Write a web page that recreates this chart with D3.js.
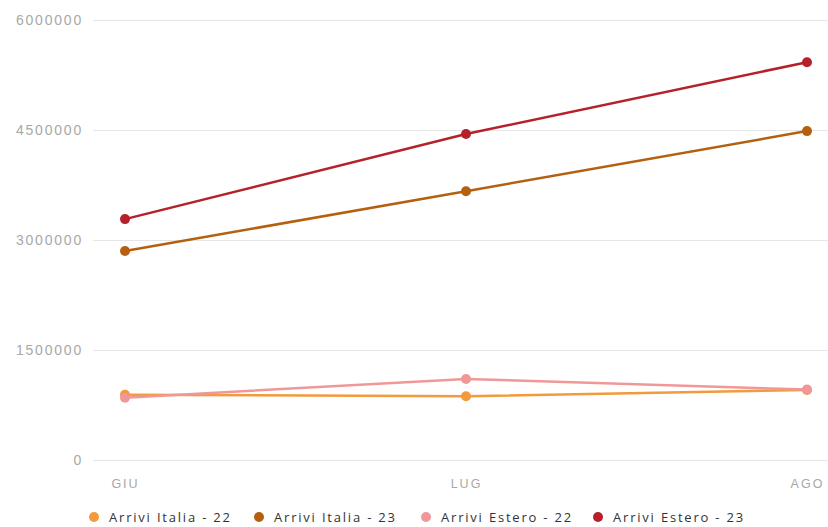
<!DOCTYPE html>
<html>
<head>
<meta charset="utf-8">
<script src="https://cdn.jsdelivr.net/npm/d3@7"></script>
<style>
  html, body { margin: 0; padding: 0; background: #fff; }
  svg { display: block; font-family: "Open Sans", "Noto Sans", sans-serif; }
</style>
</head>
<body>
<svg id="chart" width="828" height="527"></svg>
<script>
const months = ["GIU", "LUG", "AGO"];
const seriesNames = ["Arrivi Italia - 22", "Arrivi Italia - 23", "Arrivi Estero - 22", "Arrivi Estero - 23"];
const seriesColors = ["#f39a3c", "#b5600f", "#f09898", "#b5202a"];
const arriviItalia22 = [890000, 870000, 955000];
const arriviItalia23 = [2850000, 3665000, 4485000];
const arriviEstero22 = [850000, 1105000, 960000];
const arriviEstero23 = [3285000, 4445000, 5425000];
const yTicks = [0, 1500000, 3000000, 4500000, 6000000];

const seriesValues = [arriviItalia22, arriviItalia23, arriviEstero22, arriviEstero23];

const svg = d3.select("#chart");
const margin = { left: 93, right: 0, top: 20, bottom: 67 };
const W = 828, H = 527;

const x = d3.scalePoint().domain(months).range([125, 807]);
const y = d3.scaleLinear().domain([0, 6000000]).range([H - margin.bottom, margin.top]);

// horizontal gridlines with tick labels
const yAxis = svg.append("g")
  .attr("transform", `translate(${margin.left},0)`)
  .call(d3.axisLeft(y).tickValues(yTicks).tickFormat(d3.format("d")).tickSize(-(W - margin.left)).tickPadding(10));
yAxis.select(".domain").remove();
yAxis.selectAll(".tick line").attr("stroke", "#e6e6e6").attr("stroke-width", 1);
yAxis.selectAll(".tick text").attr("fill", "#a8a8a8").attr("font-size", 14).attr("letter-spacing", "1.8px");

// month labels
const xAxis = svg.append("g")
  .attr("transform", `translate(0,${H - margin.bottom})`)
  .call(d3.axisBottom(x).tickSize(0).tickPadding(19));
xAxis.select(".domain").remove();
xAxis.selectAll(".tick text").attr("fill", "#a8a8a8").attr("font-size", 12.5).attr("letter-spacing", "2px");

const line = d3.line().x((d, i) => x(months[i])).y(d => y(d));

seriesValues.forEach((vals, s) => {
  const g = svg.append("g");
  g.append("path")
    .datum(vals)
    .attr("d", line)
    .attr("fill", "none")
    .attr("stroke", seriesColors[s])
    .attr("stroke-width", 2.5);
  g.selectAll("circle")
    .data(vals)
    .join("circle")
    .attr("cx", (d, i) => x(months[i]))
    .attr("cy", d => y(d))
    .attr("r", 5)
    .attr("fill", seriesColors[s]);
});

// legend
const legendX = [94, 259, 426, 598];
const legend = svg.append("g").attr("transform", "translate(0,517)");
seriesNames.forEach((name, i) => {
  legend.append("circle").attr("cx", legendX[i]).attr("cy", 0).attr("r", 5).attr("fill", seriesColors[i]);
  legend.append("text").attr("x", legendX[i] + 15).attr("y", 0).attr("dy", "0.35em")
    .attr("fill", "#333").attr("font-size", 13).attr("letter-spacing", "1.8px").text(name);
});
</script>
</body>
</html>
